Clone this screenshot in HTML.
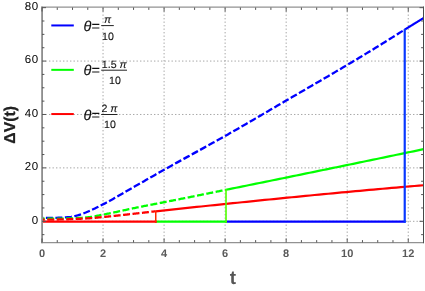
<!DOCTYPE html><html><head><meta charset="utf-8"><style>
html,body{margin:0;padding:0;background:#fff;}svg{display:block;will-change:transform;opacity:0.999;font-family:"Liberation Sans",sans-serif;}
</style></head><body>
<svg width="425" height="291" viewBox="0 0 425 291" text-rendering="geometricPrecision">
<rect width="425" height="291" fill="#fff"/>
<path d="M103.04 7.50V242.50M164.08 7.50V242.50M225.12 7.50V242.50M286.16 7.50V242.50M347.20 7.50V242.50M408.24 7.50V242.50M42.00 221.30H423.50M42.00 167.89H423.50M42.00 114.48H423.50M42.00 61.07H423.50" stroke="#a6a6a6" stroke-width="1" stroke-dasharray="1.4 2.1" fill="none"/>
<polyline points="42.00,217.96 43.82,217.96 45.65,217.95 47.47,217.93 49.29,217.91 51.11,217.89 52.94,217.86 54.76,217.82 56.58,217.79 58.40,217.75 60.23,217.68 62.05,217.60 63.87,217.49 65.70,217.36 67.52,217.22 69.34,217.05 71.16,216.80 72.99,216.49 74.81,216.12 76.63,215.70 78.46,215.16 80.28,214.54 82.10,213.89 83.92,213.22 85.75,212.50 87.57,211.73 89.39,210.94 91.21,210.13 93.04,209.29 94.86,208.42 96.68,207.54 98.51,206.64 100.33,205.72 102.15,204.80 103.97,203.86 105.80,202.90 107.62,201.93 109.44,200.93 111.27,199.93 113.09,198.91 114.91,197.87 116.73,196.83 118.56,195.78 120.38,194.73 122.20,193.67 124.02,192.61 125.85,191.55 127.67,190.50 129.49,189.44 131.32,188.40 133.14,187.36 134.96,186.32 136.78,185.29 138.61,184.25 140.43,183.21 142.25,182.17 144.07,181.13 145.90,180.09 147.72,179.05 149.54,178.01 151.37,176.97 153.19,175.93 155.01,174.89 156.83,173.85 158.66,172.82 160.48,171.79 162.30,170.76 164.13,169.73 165.95,168.71 167.77,167.69 169.59,166.68 171.42,165.66 173.24,164.65 175.06,163.64 176.88,162.63 178.71,161.63 180.53,160.62 182.35,159.62 184.18,158.62 186.00,157.62 187.82,156.62 189.64,155.62 191.47,154.62 193.29,153.62 195.11,152.62 196.94,151.62 198.76,150.62 200.58,149.62 202.40,148.62 204.23,147.62 206.05,146.61 207.87,145.61 209.69,144.60 211.52,143.59 213.34,142.58 215.16,141.57 216.99,140.55 218.81,139.53 220.63,138.51 222.45,137.48 224.28,136.45 226.10,135.42 227.92,134.39 229.74,133.35 231.57,132.31 233.39,131.27 235.21,130.22 237.04,129.18 238.86,128.13 240.68,127.08 242.50,126.03 244.33,124.97 246.15,123.92 247.97,122.86 249.80,121.80 251.62,120.75 253.44,119.68 255.26,118.62 257.09,117.56 258.91,116.50 260.73,115.44 262.55,114.37 264.38,113.31 266.20,112.24 268.02,111.18 269.85,110.11 271.67,109.05 273.49,107.98 275.31,106.92 277.14,105.85 278.96,104.79 280.78,103.73 282.60,102.66 284.43,101.60 286.25,100.54 288.07,99.48 289.90,98.42 291.72,97.36 293.54,96.30 295.36,95.24 297.19,94.19 299.01,93.13 300.83,92.07 302.66,91.01 304.48,89.96 306.30,88.90 308.12,87.84 309.95,86.78 311.77,85.72 313.59,84.66 315.41,83.60 317.24,82.54 319.06,81.48 320.88,80.42 322.71,79.36 324.53,78.29 326.35,77.23 328.17,76.16 330.00,75.09 331.82,74.02 333.64,72.95 335.47,71.88 337.29,70.81 339.11,69.73 340.93,68.66 342.76,67.58 344.58,66.50 346.40,65.42 348.22,64.33 350.05,63.25 351.87,62.16 353.69,61.07 355.52,59.98 357.34,58.89 359.16,57.79 360.98,56.69 362.81,55.59 364.63,54.49 366.45,53.39 368.27,52.28 370.10,51.18 371.92,50.07 373.74,48.95 375.57,47.84 377.39,46.72 379.21,45.60 381.03,44.47 382.86,43.34 384.68,42.20 386.50,41.06 388.33,39.91 390.15,38.77 391.97,37.62 393.79,36.47 395.62,35.32 397.44,34.17 399.26,33.03 401.08,31.88 402.91,30.74 404.73,29.60" fill="none" stroke="#0000ff" stroke-width="2.3" stroke-dasharray="7 2.5" stroke-dashoffset="5.60"/>
<polyline points="42.00,218.76 42.92,218.76 43.85,218.76 44.77,218.76 45.70,218.76 46.62,218.75 47.55,218.75 48.47,218.74 49.40,218.73 50.32,218.73 51.25,218.72 52.17,218.71 53.10,218.70 54.02,218.69 54.95,218.68 55.87,218.67 56.79,218.65 57.72,218.64 58.64,218.63 59.57,218.61 60.49,218.60 61.42,218.58 62.34,218.57 63.27,218.55 64.19,218.54 65.12,218.52 66.04,218.50 66.97,218.49 67.89,218.46 68.81,218.44 69.74,218.41 70.66,218.38 71.59,218.35 72.51,218.31 73.44,218.27 74.36,218.23 75.29,218.18 76.21,218.14 77.14,218.08 78.06,218.03 78.99,217.97 79.91,217.92 80.84,217.85 81.76,217.79 82.68,217.72 83.61,217.65 84.53,217.58 85.46,217.51 86.38,217.43 87.31,217.35 88.23,217.27 89.16,217.18 90.08,217.07 91.01,216.94 91.93,216.80 92.86,216.64 93.78,216.48 94.70,216.31 95.63,216.13 96.55,215.94 97.48,215.75 98.40,215.56 99.33,215.37 100.25,215.18 101.18,214.99 102.10,214.81 103.03,214.63 103.95,214.45 104.88,214.27 105.80,214.09 106.73,213.91 107.65,213.73 108.57,213.54 109.50,213.35 110.42,213.16 111.35,212.97 112.27,212.78 113.20,212.59 114.12,212.40 115.05,212.20 115.97,212.01 116.90,211.81 117.82,211.61 118.75,211.42 119.67,211.22 120.60,211.02 121.52,210.82 122.44,210.62 123.37,210.42 124.29,210.22 125.22,210.02 126.14,209.82 127.07,209.62 127.99,209.42 128.92,209.22 129.84,209.02 130.77,208.82 131.69,208.63 132.62,208.43 133.54,208.23 134.46,208.04 135.39,207.84 136.31,207.65 137.24,207.45 138.16,207.26 139.09,207.07 140.01,206.88 140.94,206.70 141.86,206.51 142.79,206.32 143.71,206.14 144.64,205.96 145.56,205.78 146.49,205.60 147.41,205.42 148.33,205.24 149.26,205.06 150.18,204.88 151.11,204.70 152.03,204.53 152.96,204.35 153.88,204.17 154.81,204.00 155.73,203.82 156.66,203.64 157.58,203.46 158.51,203.29 159.43,203.11 160.36,202.93 161.28,202.75 162.20,202.57 163.13,202.39 164.05,202.21 164.98,202.03 165.90,201.85 166.83,201.67 167.75,201.48 168.68,201.30 169.60,201.12 170.53,200.94 171.45,200.75 172.38,200.57 173.30,200.39 174.22,200.20 175.15,200.02 176.07,199.84 177.00,199.65 177.92,199.47 178.85,199.29 179.77,199.10 180.70,198.92 181.62,198.73 182.55,198.55 183.47,198.36 184.40,198.18 185.32,198.00 186.25,197.81 187.17,197.63 188.09,197.44 189.02,197.26 189.94,197.07 190.87,196.88 191.79,196.70 192.72,196.51 193.64,196.33 194.57,196.14 195.49,195.96 196.42,195.77 197.34,195.59 198.27,195.40 199.19,195.21 200.11,195.03 201.04,194.84 201.96,194.65 202.89,194.47 203.81,194.28 204.74,194.10 205.66,193.91 206.59,193.72 207.51,193.54 208.44,193.35 209.36,193.16 210.29,192.98 211.21,192.79 212.14,192.60 213.06,192.41 213.98,192.23 214.91,192.04 215.83,191.85 216.76,191.67 217.68,191.48 218.61,191.29 219.53,191.10 220.46,190.92 221.38,190.73 222.31,190.54 223.23,190.36 224.16,190.17 225.08,189.98 226.01,189.79" fill="none" stroke="#00ff00" stroke-width="2.3" stroke-dasharray="7 2.5" stroke-dashoffset="4.30"/>
<polyline points="42.00,219.70 42.57,219.70 43.14,219.69 43.71,219.69 44.29,219.69 44.86,219.68 45.43,219.68 46.00,219.68 46.57,219.67 47.14,219.67 47.72,219.66 48.29,219.65 48.86,219.65 49.43,219.64 50.00,219.63 50.57,219.62 51.15,219.62 51.72,219.61 52.29,219.60 52.86,219.59 53.43,219.58 54.00,219.57 54.58,219.56 55.15,219.55 55.72,219.54 56.29,219.52 56.86,219.51 57.43,219.50 58.00,219.49 58.58,219.48 59.15,219.47 59.72,219.45 60.29,219.44 60.86,219.43 61.43,219.41 62.01,219.40 62.58,219.39 63.15,219.37 63.72,219.36 64.29,219.35 64.86,219.33 65.44,219.32 66.01,219.31 66.58,219.29 67.15,219.28 67.72,219.26 68.29,219.25 68.87,219.23 69.44,219.22 70.01,219.20 70.58,219.18 71.15,219.16 71.72,219.14 72.29,219.12 72.87,219.10 73.44,219.08 74.01,219.06 74.58,219.04 75.15,219.01 75.72,218.99 76.30,218.96 76.87,218.94 77.44,218.91 78.01,218.89 78.58,218.86 79.15,218.84 79.73,218.81 80.30,218.78 80.87,218.75 81.44,218.72 82.01,218.70 82.58,218.67 83.16,218.64 83.73,218.60 84.30,218.57 84.87,218.54 85.44,218.51 86.01,218.48 86.58,218.44 87.16,218.41 87.73,218.38 88.30,218.34 88.87,218.31 89.44,218.27 90.01,218.23 90.59,218.19 91.16,218.14 91.73,218.10 92.30,218.05 92.87,218.00 93.44,217.95 94.02,217.90 94.59,217.85 95.16,217.80 95.73,217.74 96.30,217.69 96.87,217.63 97.45,217.58 98.02,217.52 98.59,217.47 99.16,217.41 99.73,217.35 100.30,217.30 100.87,217.24 101.45,217.18 102.02,217.13 102.59,217.07 103.16,217.02 103.73,216.96 104.30,216.91 104.88,216.85 105.45,216.79 106.02,216.74 106.59,216.68 107.16,216.62 107.73,216.57 108.31,216.51 108.88,216.45 109.45,216.39 110.02,216.33 110.59,216.28 111.16,216.22 111.73,216.16 112.31,216.10 112.88,216.04 113.45,215.98 114.02,215.92 114.59,215.86 115.16,215.80 115.74,215.74 116.31,215.67 116.88,215.61 117.45,215.55 118.02,215.49 118.59,215.43 119.17,215.37 119.74,215.30 120.31,215.24 120.88,215.18 121.45,215.12 122.02,215.06 122.60,214.99 123.17,214.93 123.74,214.87 124.31,214.80 124.88,214.74 125.45,214.68 126.02,214.61 126.60,214.55 127.17,214.49 127.74,214.42 128.31,214.36 128.88,214.30 129.45,214.23 130.03,214.17 130.60,214.11 131.17,214.04 131.74,213.98 132.31,213.92 132.88,213.85 133.46,213.79 134.03,213.73 134.60,213.66 135.17,213.60 135.74,213.54 136.31,213.47 136.89,213.41 137.46,213.35 138.03,213.28 138.60,213.22 139.17,213.16 139.74,213.09 140.31,213.03 140.89,212.96 141.46,212.90 142.03,212.83 142.60,212.77 143.17,212.70 143.74,212.64 144.32,212.57 144.89,212.51 145.46,212.44 146.03,212.38 146.60,212.31 147.17,212.24 147.75,212.18 148.32,212.11 148.89,212.05 149.46,211.98 150.03,211.92 150.60,211.85 151.18,211.79 151.75,211.72 152.32,211.66 152.89,211.60 153.46,211.53 154.03,211.47 154.60,211.41 155.18,211.35 155.75,211.29" fill="none" stroke="#ff0000" stroke-width="2.3" stroke-dasharray="7 2.5" stroke-dashoffset="4.25"/>
<polyline points="225.09,221.70 405.65,221.70" fill="none" stroke="#0000ff" stroke-width="2.2"/>
<polyline points="154.83,221.70 226.92,221.70" fill="none" stroke="#00ff00" stroke-width="2.2"/>
<polyline points="42.00,221.70 156.66,221.70" fill="none" stroke="#ff0000" stroke-width="2.2"/>
<polyline points="404.73,29.60 405.05,29.40 405.37,29.20 405.68,29.01 406.00,28.81 406.32,28.61 406.64,28.41 406.96,28.22 407.28,28.02 407.59,27.82 407.91,27.62 408.23,27.43 408.55,27.23 408.87,27.03 409.18,26.84 409.50,26.64 409.82,26.45 410.14,26.25 410.46,26.05 410.77,25.86 411.09,25.66 411.41,25.47 411.73,25.27 412.05,25.07 412.37,24.88 412.68,24.68 413.00,24.49 413.32,24.29 413.64,24.10 413.96,23.90 414.27,23.71 414.59,23.51 414.91,23.32 415.23,23.12 415.55,22.93 415.86,22.73 416.18,22.54 416.50,22.34 416.82,22.15 417.14,21.95 417.46,21.76 417.77,21.56 418.09,21.37 418.41,21.18 418.73,20.98 419.05,20.79 419.36,20.59 419.68,20.40 420.00,20.21 420.32,20.01 420.64,19.82 420.95,19.62 421.27,19.43 421.59,19.24 421.91,19.04 422.23,18.85 422.55,18.66 422.86,18.46 423.18,18.27 423.50,18.07" fill="none" stroke="#0000ff" stroke-width="2.2"/>
<polyline points="226.01,189.79 229.35,189.12 232.70,188.44 236.05,187.76 239.39,187.08 242.74,186.40 246.09,185.72 249.44,185.04 252.78,184.36 256.13,183.68 259.48,183.00 262.83,182.32 266.17,181.64 269.52,180.96 272.87,180.28 276.22,179.60 279.56,178.91 282.91,178.23 286.26,177.55 289.61,176.86 292.95,176.18 296.30,175.50 299.65,174.81 302.99,174.13 306.34,173.44 309.69,172.76 313.04,172.07 316.38,171.38 319.73,170.70 323.08,170.01 326.43,169.32 329.77,168.64 333.12,167.95 336.47,167.26 339.82,166.57 343.16,165.88 346.51,165.19 349.86,164.50 353.21,163.81 356.55,163.12 359.90,162.43 363.25,161.73 366.59,161.04 369.94,160.35 373.29,159.66 376.64,158.96 379.98,158.27 383.33,157.57 386.68,156.88 390.03,156.18 393.37,155.49 396.72,154.79 400.07,154.09 403.42,153.39 406.76,152.70 410.11,152.00 413.46,151.30 416.81,150.60 420.15,149.90 423.50,149.20" fill="none" stroke="#00ff00" stroke-width="2.2"/>
<polyline points="155.75,211.29 160.29,210.80 164.82,210.32 169.36,209.84 173.90,209.35 178.44,208.87 182.98,208.39 187.52,207.91 192.05,207.44 196.59,206.96 201.13,206.48 205.67,206.01 210.21,205.53 214.74,205.06 219.28,204.59 223.82,204.12 228.36,203.65 232.90,203.18 237.44,202.72 241.97,202.25 246.51,201.79 251.05,201.33 255.59,200.86 260.13,200.41 264.66,199.95 269.20,199.49 273.74,199.04 278.28,198.59 282.82,198.14 287.35,197.69 291.89,197.24 296.43,196.79 300.97,196.35 305.51,195.91 310.05,195.47 314.58,195.03 319.12,194.60 323.66,194.16 328.20,193.73 332.74,193.30 337.27,192.88 341.81,192.45 346.35,192.03 350.89,191.61 355.43,191.19 359.97,190.78 364.50,190.37 369.04,189.96 373.58,189.55 378.12,189.15 382.66,188.74 387.19,188.34 391.73,187.95 396.27,187.55 400.81,187.16 405.35,186.77 409.89,186.39 414.42,186.00 418.96,185.63 423.50,185.25" fill="none" stroke="#ff0000" stroke-width="2.2"/>
<line x1="155.75" x2="155.75" y1="222.70" y2="210.69" stroke="#ff2800" stroke-width="1.5"/>
<line x1="226.01" x2="226.01" y1="222.70" y2="189.19" stroke="#50ff00" stroke-width="1.6"/>
<line x1="404.73" x2="404.73" y1="222.70" y2="29.00" stroke="#0838ff" stroke-width="2.2"/>
<line x1="41.2" x2="424" y1="7.15" y2="7.15" stroke="#929292" stroke-width="1.25"/>
<line x1="41.2" x2="424" y1="242.6" y2="242.6" stroke="#929292" stroke-width="1.25"/>
<line x1="42.1" x2="42.1" y1="6.6" y2="243.2" stroke="#8e8e8e" stroke-width="1.85"/>
<line x1="423.5" x2="423.5" y1="6.6" y2="243.2" stroke="#484848" stroke-width="1"/>
<path d="M42.00 242.50v-4.00M42.00 7.50v4.00M57.26 242.50v-2.40M57.26 7.50v2.40M72.52 242.50v-2.40M72.52 7.50v2.40M87.78 242.50v-2.40M87.78 7.50v2.40M103.04 242.50v-4.00M103.04 7.50v4.00M118.30 242.50v-2.40M118.30 7.50v2.40M133.56 242.50v-2.40M133.56 7.50v2.40M148.82 242.50v-2.40M148.82 7.50v2.40M164.08 242.50v-4.00M164.08 7.50v4.00M179.34 242.50v-2.40M179.34 7.50v2.40M194.60 242.50v-2.40M194.60 7.50v2.40M209.86 242.50v-2.40M209.86 7.50v2.40M225.12 242.50v-4.00M225.12 7.50v4.00M240.38 242.50v-2.40M240.38 7.50v2.40M255.64 242.50v-2.40M255.64 7.50v2.40M270.90 242.50v-2.40M270.90 7.50v2.40M286.16 242.50v-4.00M286.16 7.50v4.00M301.42 242.50v-2.40M301.42 7.50v2.40M316.68 242.50v-2.40M316.68 7.50v2.40M331.94 242.50v-2.40M331.94 7.50v2.40M347.20 242.50v-4.00M347.20 7.50v4.00M362.46 242.50v-2.40M362.46 7.50v2.40M377.72 242.50v-2.40M377.72 7.50v2.40M392.98 242.50v-2.40M392.98 7.50v2.40M408.24 242.50v-4.00M408.24 7.50v4.00M423.50 242.50v-2.40M423.50 7.50v2.40M42.00 234.65h2.40M423.50 234.65h-2.40M42.00 221.30h4.00M423.50 221.30h-4.00M42.00 207.95h2.40M423.50 207.95h-2.40M42.00 194.59h2.40M423.50 194.59h-2.40M42.00 181.24h2.40M423.50 181.24h-2.40M42.00 167.89h4.00M423.50 167.89h-4.00M42.00 154.54h2.40M423.50 154.54h-2.40M42.00 141.19h2.40M423.50 141.19h-2.40M42.00 127.83h2.40M423.50 127.83h-2.40M42.00 114.48h4.00M423.50 114.48h-4.00M42.00 101.13h2.40M423.50 101.13h-2.40M42.00 87.78h2.40M423.50 87.78h-2.40M42.00 74.42h2.40M423.50 74.42h-2.40M42.00 61.07h4.00M423.50 61.07h-4.00M42.00 47.72h2.40M423.50 47.72h-2.40M42.00 34.37h2.40M423.50 34.37h-2.40M42.00 21.01h2.40M423.50 21.01h-2.40M42.00 7.66h4.00M423.50 7.66h-4.00" stroke="#555" stroke-width="1" fill="none"/>
<text x="38.7" y="223.60" font-size="11.5" letter-spacing="0.6" text-anchor="end" fill="#000">0</text>
<text x="38.7" y="170.19" font-size="11.5" letter-spacing="0.6" text-anchor="end" fill="#000">20</text>
<text x="38.7" y="116.78" font-size="11.5" letter-spacing="0.6" text-anchor="end" fill="#000">40</text>
<text x="38.7" y="63.37" font-size="11.5" letter-spacing="0.6" text-anchor="end" fill="#000">60</text>
<text x="38.7" y="9.96" font-size="11.5" letter-spacing="0.6" text-anchor="end" fill="#000">80</text>
<text x="42.00" y="256.8" font-size="11" font-weight="bold" text-anchor="middle" fill="#5a5a5a">0</text>
<text x="103.04" y="256.8" font-size="11" font-weight="bold" text-anchor="middle" fill="#5a5a5a">2</text>
<text x="164.08" y="256.8" font-size="11" font-weight="bold" text-anchor="middle" fill="#5a5a5a">4</text>
<text x="225.12" y="256.8" font-size="11" font-weight="bold" text-anchor="middle" fill="#5a5a5a">6</text>
<text x="286.16" y="256.8" font-size="11" font-weight="bold" text-anchor="middle" fill="#5a5a5a">8</text>
<text x="347.20" y="256.8" font-size="11" font-weight="bold" text-anchor="middle" fill="#5a5a5a">10</text>
<text x="408.24" y="256.8" font-size="11" font-weight="bold" text-anchor="middle" fill="#5a5a5a">12</text>
<text x="233" y="284" font-size="19" font-weight="bold" text-anchor="middle" fill="#555">t</text>
<text transform="translate(14.7,124.8) rotate(-90)" font-size="15.8" font-weight="bold" text-anchor="middle" fill="#222" stroke="#222" stroke-width="0.25">ΔV(t)</text>
<line x1="51.3" x2="73.8" y1="25.45" y2="25.45" stroke="#0000ff" stroke-width="2"/>
<g fill="#111" stroke="#111" stroke-width="0.12">
<text x="83.5" y="30.95" font-size="14.5"><tspan font-style="italic">θ</tspan>=</text>
<text x="107.65" y="23.35" font-size="10.6" text-anchor="middle"><tspan font-style="italic">π</tspan></text>
<text x="108.00" y="39.75" font-size="10.6" text-anchor="middle">10</text>
</g>
<line x1="101.2" x2="113.80" y1="25.60" y2="25.60" stroke="#222" stroke-width="1"/>
<line x1="51.3" x2="73.8" y1="69.85" y2="69.85" stroke="#00ff00" stroke-width="2"/>
<g fill="#111" stroke="#111" stroke-width="0.12">
<text x="83.5" y="75.35" font-size="14.5"><tspan font-style="italic">θ</tspan>=</text>
<text x="114.25" y="67.75" font-size="10.6" text-anchor="middle">1.5 <tspan font-style="italic">π</tspan></text>
<text x="115.00" y="84.15" font-size="10.6" text-anchor="middle">10</text>
</g>
<line x1="101.2" x2="127.00" y1="70.20" y2="70.20" stroke="#222" stroke-width="1"/>
<line x1="51.3" x2="73.8" y1="114.05" y2="114.05" stroke="#ff0000" stroke-width="2"/>
<g fill="#111" stroke="#111" stroke-width="0.12">
<text x="83.5" y="119.55" font-size="14.5"><tspan font-style="italic">θ</tspan>=</text>
<text x="109.50" y="111.95" font-size="10.6" text-anchor="middle">2 <tspan font-style="italic">π</tspan></text>
<text x="110.00" y="128.35" font-size="10.6" text-anchor="middle">10</text>
</g>
<line x1="101.2" x2="117.50" y1="114.50" y2="114.50" stroke="#222" stroke-width="1"/>
</svg></body></html>
